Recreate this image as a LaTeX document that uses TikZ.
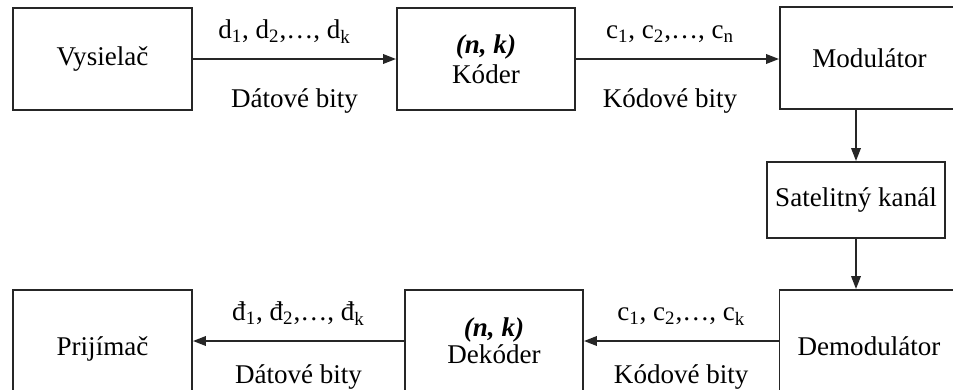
\documentclass[tikz,border=0pt]{standalone}
\usepackage{fontspec}
\setmainfont{Liberation Serif}
\usepackage{tikz}
\usetikzlibrary{arrows.meta,positioning,calc}

\begin{document}
\begin{tikzpicture}[x=0.02cm,y=-0.02cm,
    blok/.style={draw=black!85,line width=1.1pt,minimum width=3.58cm,minimum height=2.04cm,
                 inner sep=0pt,align=center,font=\fontsize{15.4}{17}\selectfont},
    sipka/.style={draw=black!85,line width=1.1pt,-{Triangle[length=0.26cm,width=0.19cm]}},
    popis/.style={font=\fontsize{15.4}{17}\selectfont,inner sep=0pt}]
    \useasboundingbox (0,0) rectangle (953,389);
    \clip (0,0) rectangle (953,389);
    % vysielacia strana
    \node[blok] (vys) at (102.5,59) {Vysielač};
    \node[blok,minimum width=3.56cm] (kod) at (486,59) {\textbf{\textit{(n, k)}}\\Kóder};
    \node[blok] (mod) at (869.5,58) {Modulátor};
    % kanal
    \node[blok,minimum width=3.56cm,minimum height=1.52cm] (sat) at (856,200) {Satelitný kanál};
    % prijimacia strana
    \node[blok] (dem) at (869,341) {\raisebox{-0.55em}[0pt][0pt]{Demodulátor}};
    \node[blok,minimum width=3.56cm] (dek) at (494,341) {\raisebox{-0.1em}{\textbf{\textit{(n, k)}}}\\Dekóder};
    \node[blok] (pri) at (102.5,341) {\raisebox{-0.52em}[0pt][0pt]{Prijímač}};
    % spojenia
    \draw[sipka] (vys.east) -- (kod.west)
        node[popis,midway,above=0.3cm,xshift=-0.2cm] {d\textsubscript{1}, d\textsubscript{2},\dots, d\textsubscript{k}}
        node[popis,midway,below=0.58cm] {Dátové bity};
    \draw[sipka] (kod.east) -- (mod.west |- kod.east)
        node[popis,midway,above=0.3cm,xshift=-0.15cm] {c\textsubscript{1}, c\textsubscript{2},\dots, c\textsubscript{n}}
        node[popis,midway,below=0.58cm,xshift=-0.15cm] {Kódové bity};
    \draw[sipka] (sat.north |- mod.south) -- (sat.north);
    \draw[sipka] (sat.south) -- (sat.south |- dem.north);
    \draw[sipka] (dem.west) -- (dek.east)
        node[popis,midway,above=0.3cm] {c\textsubscript{1}, c\textsubscript{2},\dots, c\textsubscript{k}}
        node[popis,midway,below=0.45cm] {Kódové bity};
    \draw[sipka] (dek.west) -- (pri.east)
        node[popis,midway,above=0.3cm] {đ\textsubscript{1}, đ\textsubscript{2},\dots, đ\textsubscript{k}}
        node[popis,midway,below=0.45cm] {Dátové bity};
\end{tikzpicture}
\end{document}
